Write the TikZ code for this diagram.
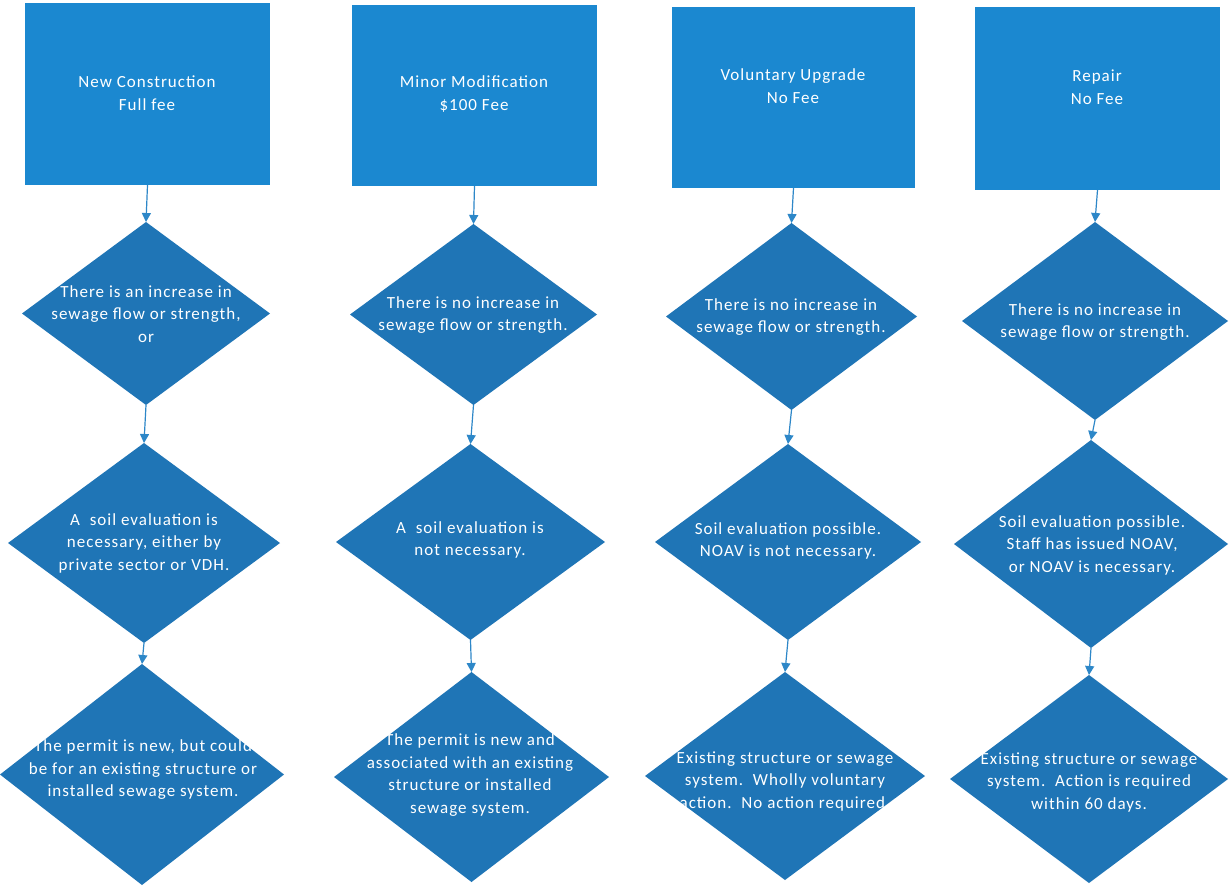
\documentclass[tikz,border=0pt]{standalone}
\usepackage{fontspec}
\setmainfont{Carlito}[LetterSpace=6]
\usetikzlibrary{shapes.geometric,arrows.meta}
\definecolor{rectblue}{RGB}{27,136,208}
\definecolor{diablue}{RGB}{31,117,182}
\definecolor{arrblue}{RGB}{45,135,200}
\tikzset{
  box/.style={rectangle, fill=rectblue, draw=none, inner sep=0pt, outer sep=0pt},
  dia/.style={diamond, fill=diablue, draw=none, inner sep=0pt, outer sep=0pt},
  txt/.style={text=white, align=center, inner sep=0pt, font=\fontsize{17}{22.5}\selectfont},
  arr/.style={draw=arrblue, line width=1.2pt, -{Triangle[width=9pt,length=9pt]}}
}
\begin{document}
\begin{tikzpicture}[x=1pt,y=-1pt]
\fill[white] (0,0) rectangle (1230,886);
\useasboundingbox (0,0) rectangle (1230,886);
% column 1
\node[box, minimum width=245pt, minimum height=182pt] (r1) at (147.5,94) {};
\node[dia, minimum width=248pt, minimum height=183pt] (d11) at (146,313.5) {};
\node[dia, minimum width=272pt, minimum height=200pt] (d12) at (144,543) {};
\node[dia, minimum width=284pt, minimum height=221pt] (d13) at (142,774.5) {};
% column 2
\node[box, minimum width=245pt, minimum height=181pt] (r2) at (474.5,95.5) {};
\node[dia, minimum width=247pt, minimum height=181pt] (d21) at (473.5,314.5) {};
\node[dia, minimum width=269pt, minimum height=196pt] (d22) at (470.5,542) {};
\node[dia, minimum width=275pt, minimum height=210pt] (d23) at (471.5,777) {};
% column 3
\node[box, minimum width=243pt, minimum height=181pt] (r3) at (793.5,97.5) {};
\node[dia, minimum width=251pt, minimum height=187pt] (d31) at (791.5,316.5) {};
\node[dia, minimum width=266pt, minimum height=196pt] (d32) at (788,542) {};
\node[dia, minimum width=280pt, minimum height=208pt] (d33) at (785,776) {};
% column 4
\node[box, minimum width=245pt, minimum height=183pt] (r4) at (1097.5,98.5) {};
\node[dia, minimum width=266pt, minimum height=198pt] (d41) at (1095,321) {};
\node[dia, minimum width=274pt, minimum height=208pt] (d42) at (1091,544) {};
\node[dia, minimum width=278pt, minimum height=208pt] (d43) at (1089,779) {};
% texts
\node[txt] (t1) at (147,93) {New Construction\\Full fee};
\node[txt] (t2) at (474,94) {Minor Modification\\\$100 Fee};
\node[txt] (t3) at (793,86) {Voluntary Upgrade\\No Fee};
\node[txt] (t4) at (1097,87) {Repair\\No Fee};
\node[txt] (t11) at (146,314) {There is an increase in\\sewage flow or strength,\\or};
\node[txt] (t12) at (144,543) {A\ \ soil evaluation is\\necessary, either by\\private sector or VDH.};
\node[txt] (t13) at (143,770) {The permit is new, but could\\be for an existing structure or\\installed sewage system.};
\node[txt] (t21) at (473,315) {There is no increase in\\sewage flow or strength.};
\node[txt] (t22) at (470,540) {A\ \ soil evaluation is\\not necessary.};
\node[txt] (t23) at (470,775) {The permit is new and\\associated with an existing\\structure or installed\\sewage system.};
\node[txt] (t31) at (791,317) {There is no increase in\\sewage flow or strength.};
\node[txt] (t32) at (788,541) {Soil evaluation possible.\\NOAV is not necessary.};
\node[txt] (t33) at (785,781) {Existing structure or sewage\\system.\ \ Wholly voluntary\\action.\ \ No action required.};
\node[txt] (t41) at (1095,322) {There is no increase in\\sewage flow or strength.};
\node[txt] (t42) at (1092,545) {Soil evaluation possible.\\Staff has issued NOAV,\\or NOAV is necessary.};
\node[txt] (t43) at (1089,782) {Existing structure or sewage\\system.\ \ Action is required\\within 60 days.};
% arrows
\draw[arr] (r1.south) -- (d11.north);
\draw[arr] (d11.south) -- (d12.north);
\draw[arr] (d12.south) -- (d13.north);
\draw[arr] (r2.south) -- (d21.north);
\draw[arr] (d21.south) -- (d22.north);
\draw[arr] (d22.south) -- (d23.north);
\draw[arr] (r3.south) -- (d31.north);
\draw[arr] (d31.south) -- (d32.north);
\draw[arr] (d32.south) -- (d33.north);
\draw[arr] (r4.south) -- (d41.north);
\draw[arr] (d41.south) -- (d42.north);
\draw[arr] (d42.south) -- (d43.north);
\end{tikzpicture}
\end{document}
